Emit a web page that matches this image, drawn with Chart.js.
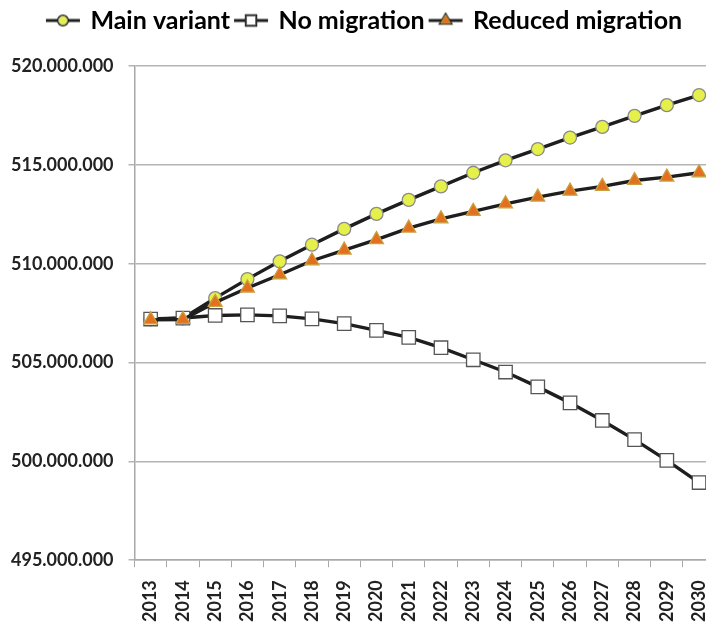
<!DOCTYPE html>
<html>
<head>
<meta charset="utf-8">
<script src="https://cdn.jsdelivr.net/npm/chart.js@4"></script>
<style>
  html, body { margin: 0; padding: 0; background: #fff; overflow: hidden; }
  #wrap { width: 734px; height: 626px; }
</style>
</head>
<body>
<div id="wrap"><canvas id="c" width="734" height="626"></canvas></div>
<script>
const years = ["2013","2014","2015","2016","2017","2018","2019","2020","2021","2022","2023","2024","2025","2026","2027","2028","2029","2030"];
const mainVariant = [507.19,507.24,508.26,509.22,510.12,510.96,511.76,512.52,513.23,513.91,514.60,515.23,515.80,516.38,516.92,517.48,518.02,518.53].map(v => v * 1e6);
const noMigration = [507.20,507.25,507.38,507.41,507.36,507.21,506.97,506.63,506.27,505.75,505.14,504.52,503.77,502.96,502.07,501.10,500.05,498.93].map(v => v * 1e6);
const reducedMigration = [507.16,507.18,508.04,508.77,509.44,510.15,510.69,511.22,511.80,512.27,512.65,513.03,513.37,513.67,513.91,514.21,514.38,514.60].map(v => v * 1e6);
const seriesNames = ["Main variant", "No migration", "Reduced migration"];
const yTicks = [495e6, 500e6, 505e6, 510e6, 515e6, 520e6];

const LINE = '#1e1e1e';
const styles = [
  { pointStyle: 'circle', radius: 6.5, bg: '#e6f04a', border: '#8a8a8a' },
  { pointStyle: 'rect', radius: 9.5, bg: '#ffffff', border: '#555555' },
  { pointStyle: 'triangle', radius: 8, bg: '#e2701e', border: '#c9a040' }
];

function fmt(v) {
  return Math.round(v).toString().replace(/\B(?=(\d{3})+(?!\d))/g, '.');
}

function legendIcon(s) {
  const c = document.createElement('canvas');
  c.width = 40; c.height = 18;
  const ctx = c.getContext('2d');
  ctx.strokeStyle = LINE; ctx.lineWidth = 3;
  ctx.beginPath(); ctx.moveTo(3, 9); ctx.lineTo(37, 9); ctx.stroke();
  Chart.helpers.drawPoint(ctx, {
    pointStyle: s.pointStyle, radius: s.radius * 0.7, rotation: 0, borderWidth: 1
  }, 20, 9);
  ctx.fillStyle = s.bg; ctx.strokeStyle = s.border; ctx.lineWidth = 1;
  ctx.fill(); ctx.stroke();
  return c;
}

const data = [mainVariant, noMigration, reducedMigration];
const datasets = data.map((d, i) => ({
  label: seriesNames[i],
  data: d,
  borderColor: LINE,
  borderWidth: 3.4,
  pointStyle: styles[i].pointStyle,
  pointRadius: styles[i].radius,
  pointBackgroundColor: styles[i].bg,
  pointBorderColor: styles[i].border,
  pointBorderWidth: 1.3,
  tension: 0,
  fill: false,
  order: 2 - i
}));

const legendSpace = {
  id: 'legendSpace',
  beforeInit(chart) {
    const orig = chart.legend.fit;
    chart.legend.fit = function () { orig.call(this); this.height += 23; };
  }
};

new Chart(document.getElementById('c'), {
  type: 'line',
  data: { labels: years, datasets },
  plugins: [legendSpace],
  options: {
    responsive: false,
    animation: false,
    layout: { padding: { left: -4, right: 0, top: 2, bottom: -9 } },
    plugins: {
      tooltip: { enabled: false },
      legend: {
        position: 'top',
        align: 'center',
        labels: {
          usePointStyle: true,
          pointStyleWidth: 30,
          padding: 6,
          color: '#222',
          font: { family: 'Lato', size: 25, weight: 'bold' },
          generateLabels(chart) {
            return seriesNames.map((n, i) => ({
              text: n,
              pointStyle: legendIcon(styles[i]),
              datasetIndex: i,
              fillStyle: styles[i].bg,
              strokeStyle: LINE,
              lineWidth: 0,
              hidden: false
            }));
          }
        }
      }
    },
    scales: {
      x: {
        offset: true,
        grid: { display: true, drawOnChartArea: false, offset: true, drawTicks: true, tickLength: 7, color: '#a8a8a8' },
        border: { display: true, color: '#a8a8a8', width: 1.5 },
        ticks: {
          autoSkip: false,
          maxRotation: 90, minRotation: 90,
          padding: 13,
          color: '#222',
          font: { family: 'Lato', size: 18, weight: 'bold' }
        }
      },
      y: {
        min: 495e6, max: 520e6,
        afterBuildTicks(scale) { scale.ticks = yTicks.map(v => ({ value: v })); },
        grid: { color: '#b4b4b4', lineWidth: 1.5, drawTicks: true, tickLength: 6 },
        border: { display: true, color: '#a8a8a8', width: 1.5 },
        ticks: {
          padding: 15,
          color: '#222',
          font: { family: 'Lato', size: 18, weight: 'bold' },
          callback: (v) => fmt(v)
        }
      }
    }
  }
});
</script>
</body>
</html>
